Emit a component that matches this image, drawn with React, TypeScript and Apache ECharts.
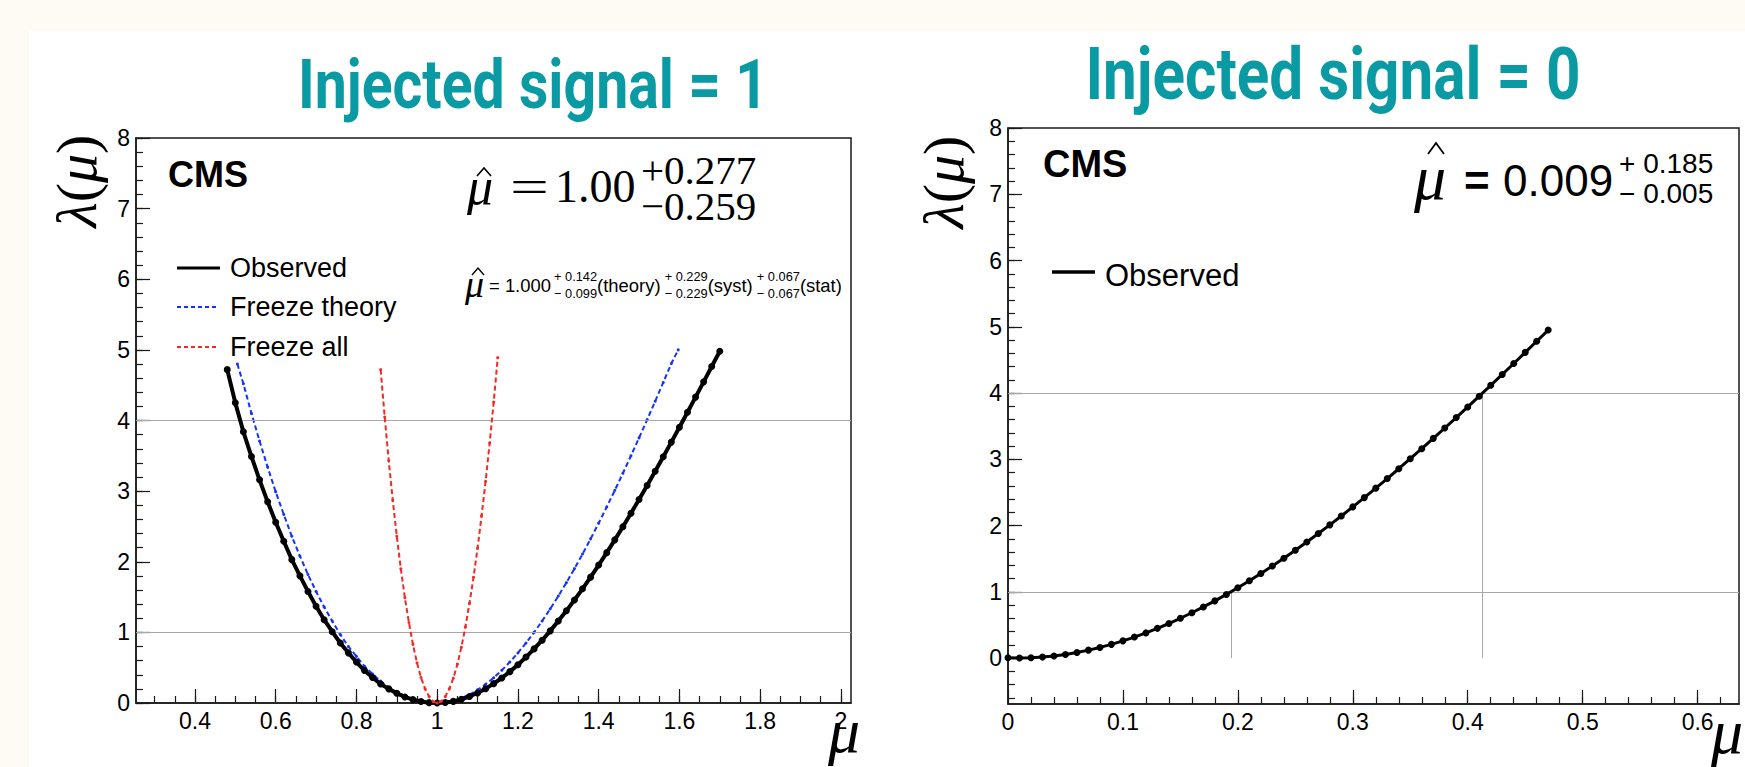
import React, { useEffect, useRef } from 'react';
import * as echarts from 'echarts';

// ---------- data ----------
// Injected signal = 1 : observed profile
const observedInj1: [number, number][] = [
  [0.48, 4.72], [0.50, 4.25], [0.52, 3.84], [0.54, 3.49], [0.56, 3.16], [0.58, 2.85], [0.60, 2.56],
  [0.62, 2.29], [0.64, 2.03], [0.66, 1.80], [0.68, 1.58], [0.70, 1.37], [0.72, 1.18], [0.74, 1.01],
  [0.76, 0.85], [0.78, 0.71], [0.80, 0.58], [0.82, 0.46], [0.84, 0.36], [0.86, 0.27], [0.88, 0.20],
  [0.90, 0.137], [0.92, 0.086], [0.94, 0.048], [0.96, 0.021], [0.98, 0.005], [1.00, 0],
  [1.02, 0.006], [1.04, 0.023], [1.06, 0.052], [1.08, 0.092], [1.10, 0.142], [1.12, 0.203],
  [1.14, 0.274], [1.16, 0.354], [1.18, 0.444], [1.20, 0.542], [1.22, 0.650], [1.24, 0.766],
  [1.26, 0.889], [1.28, 1.021], [1.30, 1.160], [1.32, 1.305], [1.34, 1.458], [1.36, 1.617],
  [1.38, 1.782], [1.40, 1.953], [1.42, 2.129], [1.44, 2.310], [1.46, 2.496], [1.48, 2.687],
  [1.50, 2.881], [1.52, 3.080], [1.54, 3.281], [1.56, 3.487], [1.58, 3.694], [1.60, 3.905],
  [1.62, 4.117], [1.64, 4.331], [1.66, 4.547], [1.68, 4.764], [1.70, 4.98],
];
// Injected signal = 1 : freeze theory
const freezeTheoryInj1: [number, number][] = [
  [0.505, 4.80], [0.52, 4.52], [0.54, 4.10], [0.56, 3.71], [0.58, 3.34], [0.60, 2.99], [0.62, 2.67],
  [0.64, 2.36], [0.66, 2.08], [0.68, 1.82], [0.70, 1.58], [0.72, 1.36], [0.74, 1.16], [0.76, 0.97],
  [0.78, 0.80], [0.80, 0.66], [0.82, 0.52], [0.84, 0.41], [0.86, 0.31], [0.88, 0.22], [0.90, 0.15],
  [0.92, 0.10], [0.94, 0.05], [0.96, 0.02], [0.98, 0.006], [1.00, 0], [1.02, 0.008], [1.04, 0.031],
  [1.06, 0.068], [1.08, 0.120], [1.10, 0.186], [1.12, 0.266], [1.14, 0.358], [1.16, 0.463],
  [1.18, 0.580], [1.20, 0.709], [1.22, 0.849], [1.24, 1.000], [1.26, 1.161], [1.28, 1.333],
  [1.30, 1.514], [1.32, 1.704], [1.34, 1.902], [1.36, 2.109], [1.38, 2.324], [1.40, 2.547],
  [1.42, 2.776], [1.44, 3.011], [1.46, 3.253], [1.48, 3.501], [1.50, 3.754], [1.52, 4.011],
  [1.54, 4.273], [1.56, 4.539], [1.58, 4.808], [1.597, 5.0],
];
// Injected signal = 1 : freeze all
const freezeAllInj1: [number, number][] = [
  [0.86, 4.72], [0.87, 4.05], [0.88, 3.43], [0.89, 2.87], [0.90, 2.36], [0.91, 1.90], [0.92, 1.49],
  [0.93, 1.14], [0.94, 0.83], [0.95, 0.57], [0.96, 0.36], [0.97, 0.20], [0.98, 0.09], [0.99, 0.02],
  [1.00, 0], [1.01, 0.022], [1.02, 0.09], [1.03, 0.20], [1.04, 0.35], [1.05, 0.55], [1.06, 0.79],
  [1.07, 1.08], [1.08, 1.41], [1.09, 1.78], [1.10, 2.19], [1.11, 2.65], [1.12, 3.14], [1.13, 3.68],
  [1.14, 4.26], [1.15, 4.89],
];
// Injected signal = 0 : observed profile
const observedInj0: [number, number][] = [
  [0, 0.003], [0.01, 0], [0.02, 0.004], [0.03, 0.014], [0.04, 0.031], [0.05, 0.054], [0.06, 0.083],
  [0.07, 0.119], [0.08, 0.160], [0.09, 0.206], [0.10, 0.259], [0.11, 0.316], [0.12, 0.379],
  [0.13, 0.448], [0.14, 0.521], [0.15, 0.600], [0.16, 0.683], [0.17, 0.771], [0.18, 0.863],
  [0.19, 0.960], [0.20, 1.061], [0.21, 1.166], [0.22, 1.276], [0.23, 1.389], [0.24, 1.506],
  [0.25, 1.627], [0.26, 1.751], [0.27, 1.879], [0.28, 2.010], [0.29, 2.144], [0.30, 2.281],
  [0.31, 2.421], [0.32, 2.564], [0.33, 2.709], [0.34, 2.857], [0.35, 3.008], [0.36, 3.160],
  [0.37, 3.315], [0.38, 3.472], [0.39, 3.630], [0.40, 3.790], [0.41, 3.952], [0.42, 4.116],
  [0.43, 4.280], [0.44, 4.446], [0.45, 4.613], [0.46, 4.781], [0.47, 4.950],
];

// reference levels and crossings
const levels = [1, 4];
const inj0Crossings: [number, number][] = [[0.194, 1], [0.4125, 4]];

// fit-result texts
const muHatInj1 = { value: '1.00', up: '+0.277', down: '−0.259' };
const muHatInj1Breakdown = [
  { main: '= 1.000', up: '+ 0.142', down: '− 0.099', label: '(theory)' },
  { main: '', up: '+ 0.229', down: '− 0.229', label: '(syst)' },
  { main: '', up: '+ 0.067', down: '− 0.067', label: '(stat)' },
];
const muHatInj0 = { value: '0.009', up: '+ 0.185', down: '− 0.005' };

// ticks
const range = (a: number, b: number, s: number) => {
  const out: number[] = [];
  for (let i = 0; a + i * s <= b + 1e-9; i++) out.push(Math.round((a + i * s) * 1000) / 1000);
  return out;
};
const leftXTicks = [0.4, 0.6, 0.8, 1, 1.2, 1.4, 1.6, 1.8, 2];
const leftXMinorTicks = range(0.3, 2.0, 0.05);
const leftYTicks = [0, 1, 2, 3, 4, 5, 6, 7, 8];
const leftYMinorTicks = range(0, 8, 0.2);
const rightXTicks = [0, 0.1, 0.2, 0.3, 0.4, 0.5, 0.6];
const rightXMinorTicks = range(0.02, 0.62, 0.02);
const rightYTicks = [0, 1, 2, 3, 4, 5, 6, 7, 8];
const rightYMinorTicks = range(-0.6, 8, 0.2);

const titleLeft = 'Injected signal = 1';
const titleRight = 'Injected signal = 0';

// ---------- styling ----------
const SANS = 'Liberation Sans, Arial, Helvetica, sans-serif';
const SERIF = 'Liberation Serif, Times New Roman, serif';
const TEAL = '#0a9aa4';
const AXIS = '#1a1a1a';
const GRIDLINE = '#a8a8a8';
const BLUE = '#1233ff';
const RED = '#f02a24';
const CREAM = '#fdfbf4';

function measure(text: string, font: string) {
  const ctx = document.createElement('canvas').getContext('2d');
  if (!ctx) return text.length * 10;
  ctx.font = font;
  return ctx.measureText(text).width || text.length * 10;
}

function majorAxis(gridIndex: number, min: number, max: number, ticks: number[], position: string) {
  return {
    type: 'value', gridIndex, min, max, position,
    axisLine: { show: true, onZero: false, lineStyle: { color: AXIS, width: 1.5 } },
    axisTick: { show: true, inside: true, length: 14, customValues: ticks, lineStyle: { color: AXIS, width: 1.2 } },
    axisLabel: {
      show: true, customValues: ticks, margin: 6, fontSize: 23, color: '#000', fontFamily: SANS,
      formatter: (v: number) => String(v),
    },
    splitLine: { show: false },
    minorTick: { show: false },
  };
}
function minorAxis(gridIndex: number, min: number, max: number, ticks: number[], position: string) {
  return {
    type: 'value', gridIndex, min, max, position,
    axisLine: { show: false, onZero: false },
    axisTick: { show: true, inside: true, length: 7, customValues: ticks, lineStyle: { color: AXIS, width: 1.2 } },
    axisLabel: { show: false },
    splitLine: { show: false },
  };
}

function txt(x: number, y: number, text: string, size: number, extra: any = {}, elExtra: any = {}) {
  return {
    type: 'text', x, y, z: 20, silent: true, ...elExtra,
    style: {
      text, fontSize: size, fontFamily: SANS, fill: '#000',
      textAlign: 'left', textVerticalAlign: 'middle', ...extra,
    },
  };
}
function seg(x1: number, x2: number, y: number, color: string, width: number, dash?: number[]) {
  return {
    type: 'line', z: 20, silent: true,
    shape: { x1, y1: y, x2, y2: y },
    style: { stroke: color, lineWidth: width, lineDash: dash || null },
  };
}
function hat(cx: number, yTop: number, halfW: number, h: number, w: number) {
  return {
    type: 'polyline', z: 20, silent: true,
    shape: { points: [[cx - halfW, yTop + h], [cx, yTop], [cx + halfW, yTop + h]] },
    style: { stroke: '#000', lineWidth: w, fill: 'none' },
  };
}
function lambdaTitle(x: number, y: number) {
  const it = { fontSize: 58, fontFamily: SERIF, fontStyle: 'italic', fill: '#000' };
  const rm = { fontSize: 58, fontFamily: SERIF, fontStyle: 'normal', fill: '#000' };
  return {
    type: 'text', x, y, rotation: Math.PI / 2, z: 20, silent: true,
    style: {
      text: '{i|λ}{r|(}{i|μ}{r|)}', fontSize: 58, fontFamily: SERIF,
      textAlign: 'center', textVerticalAlign: 'middle', fill: '#000',
      rich: { i: it, r: rm },
    },
  };
}

export default function App() {
  const ref = useRef<HTMLDivElement>(null);
  useEffect(() => {
    if (!ref.current) return;
    const chart = echarts.init(ref.current, null, { renderer: 'svg' });

    const tl = measure(titleLeft, 'bold 68px Roboto');
    const tr = measure(titleRight, 'bold 72px Roboto');

    const serifIt = { fontFamily: SERIF, fontStyle: 'italic' };
    const serif = { fontFamily: SERIF };

    // ---- breakdown line (left panel), laid out left to right and fitted to its span ----
    const startX = 489, endX = 842;
    const f0 = 18, s0 = 12.5;
    const widthAt = (k: number) => {
      let w = 0;
      muHatInj1Breakdown.forEach((p, i) => {
        if (p.main) w += measure(p.main, `${f0 * k}px Liberation Sans`) + 3 * k;
        w += Math.max(measure(p.up, `${s0 * k}px Liberation Sans`), measure(p.down, `${s0 * k}px Liberation Sans`));
        w += measure(p.label, `${f0 * k}px Liberation Sans`);
        if (i < muHatInj1Breakdown.length - 1) w += 4 * k;
      });
      return w;
    };
    const k = (endX - startX) / widthAt(1);
    const f = f0 * k, s = s0 * k;
    const breakdown: any[] = [];
    let cx = startX;
    muHatInj1Breakdown.forEach((p, i) => {
      if (p.main) {
        breakdown.push(txt(cx, 285, p.main, f));
        cx += measure(p.main, `${f}px Liberation Sans`) + 3 * k;
      }
      breakdown.push(txt(cx, 276.5, p.up, s));
      breakdown.push(txt(cx, 293, p.down, s));
      cx += Math.max(measure(p.up, `${s}px Liberation Sans`), measure(p.down, `${s}px Liberation Sans`));
      breakdown.push(txt(cx, 285, p.label, f));
      cx += measure(p.label, `${f}px Liberation Sans`);
      if (i < muHatInj1Breakdown.length - 1) cx += 4 * k;
    });

    const graphic: any[] = [
      { type: 'rect', z: -1, silent: true, shape: { x: 0, y: 0, width: 1745, height: 31 }, style: { fill: CREAM } },
      { type: 'rect', z: -1, silent: true, shape: { x: 0, y: 0, width: 29, height: 767 }, style: { fill: CREAM } },
      // titles
      txt(533, 85, titleLeft, 68, { fontFamily: 'Roboto', fontWeight: 'bold', fill: TEAL, textAlign: 'center' }, { scaleX: 470 / tl }),
      txt(1333, 74, titleRight, 72, { fontFamily: 'Roboto', fontWeight: 'bold', fill: TEAL, textAlign: 'center' }, { scaleX: 495 / tr }),
      // left panel texts
      txt(168, 174, 'CMS', 36, { fontWeight: 'bold' }),
      txt(467, 186, 'μ', 52, serifIt),
      hat(484, 168, 7, 8, 1.6),
      txt(510, 186.5, '=', 46, serif, { scaleX: 1.5 }),
      txt(555, 186.5, muHatInj1.value, 46, serif),
      txt(641, 170, muHatInj1.up, 41, serif),
      txt(641, 206, muHatInj1.down, 41, serif),
      txt(465, 284, 'μ', 38, serifIt),
      hat(478, 268, 6, 7, 1.4),
      ...breakdown,
      // left legend
      seg(177, 220, 268, '#000', 3),
      txt(230, 267.5, 'Observed', 27),
      seg(177, 219, 307, BLUE, 2, [4, 3]),
      txt(230, 307, 'Freeze theory', 27),
      seg(177, 219, 347, RED, 2, [4, 3]),
      txt(230, 347, 'Freeze all', 27),
      // axis titles left
      lambdaTitle(76, 181),
      txt(828, 730, 'μ', 64, serifIt),
      // right panel texts
      txt(1043, 163.5, 'CMS', 38, { fontWeight: 'bold' }),
      txt(1414, 177, 'μ', 64, serifIt),
      hat(1436, 143, 8, 11, 1.8),
      txt(1464, 180, '=', 44, { fontWeight: 'bold' }),
      txt(1503, 180, muHatInj0.value, 44),
      txt(1619, 163, muHatInj0.up, 28),
      txt(1619, 193, muHatInj0.down, 28),
      seg(1052, 1095, 272, '#000', 3.5),
      txt(1105, 275, 'Observed', 31),
      lambdaTitle(943, 182),
      txt(1711, 731, 'μ', 64, serifIt),
    ];

    const gridLineStyle = { color: GRIDLINE, width: 1, type: 'solid' };

    chart.setOption({
      animation: false,
      backgroundColor: '#ffffff',
      grid: [
        { left: 136, top: 138, width: 715, height: 565, show: true, borderColor: AXIS, borderWidth: 1.5, backgroundColor: 'transparent', containLabel: false, outerBoundsMode: 'none' },
        { left: 1008, top: 128, width: 731, height: 576, show: true, borderColor: AXIS, borderWidth: 1.5, backgroundColor: 'transparent', containLabel: false, outerBoundsMode: 'none' },
      ],
      xAxis: [
        majorAxis(0, 0.254, 2.025, leftXTicks, 'bottom'),
        minorAxis(0, 0.254, 2.025, leftXMinorTicks, 'bottom'),
        majorAxis(1, 0, 0.636, rightXTicks, 'bottom'),
        minorAxis(1, 0, 0.636, rightXMinorTicks, 'bottom'),
      ],
      yAxis: [
        majorAxis(0, 0, 8, leftYTicks, 'left'),
        minorAxis(0, 0, 8, leftYMinorTicks, 'left'),
        majorAxis(1, -0.694, 8, rightYTicks, 'left'),
        minorAxis(1, -0.694, 8, rightYMinorTicks, 'left'),
      ],
      series: [
        {
          type: 'line', xAxisIndex: 0, yAxisIndex: 0, data: [], z: 1, silent: true,
          markLine: { silent: true, symbol: ['none', 'none'], label: { show: false }, lineStyle: gridLineStyle,
            data: levels.map((v) => ({ yAxis: v })) },
        },
        {
          type: 'line', xAxisIndex: 2, yAxisIndex: 2, data: [], z: 1, silent: true,
          markLine: { silent: true, symbol: ['none', 'none'], label: { show: false }, lineStyle: gridLineStyle,
            data: [
              ...levels.map((v) => ({ yAxis: v })),
              ...inj0Crossings.map(([x, y]) => [{ coord: [x, 0] }, { coord: [x, y] }]),
            ] },
        },
        {
          name: 'Freeze theory', type: 'line', xAxisIndex: 0, yAxisIndex: 0, data: freezeTheoryInj1, z: 4,
          symbol: 'circle', symbolSize: 3, showAllSymbol: true, silent: true,
          itemStyle: { color: BLUE }, lineStyle: { color: BLUE, width: 2, type: [5, 3] },
        },
        {
          name: 'Observed', type: 'line', xAxisIndex: 0, yAxisIndex: 0, data: observedInj1, z: 5,
          symbol: 'circle', symbolSize: 7, showAllSymbol: true, silent: true,
          itemStyle: { color: '#000' }, lineStyle: { color: '#000', width: 4 },
        },
        {
          name: 'Freeze all', type: 'line', xAxisIndex: 0, yAxisIndex: 0, data: freezeAllInj1, z: 6,
          symbol: 'circle', symbolSize: 3, showAllSymbol: true, silent: true,
          itemStyle: { color: RED }, lineStyle: { color: RED, width: 2, type: [5, 3] },
        },
        {
          name: 'Observed (0)', type: 'line', xAxisIndex: 2, yAxisIndex: 2, data: observedInj0, z: 5,
          symbol: 'circle', symbolSize: 7, showAllSymbol: true, silent: true,
          itemStyle: { color: '#000' }, lineStyle: { color: '#000', width: 3 },
        },
      ],
      graphic,
    });
    return () => chart.dispose();
  }, []);
  return <div ref={ref} style={{ position: 'fixed', left: 0, top: 0, width: 1745, height: 767 }} />;
}
